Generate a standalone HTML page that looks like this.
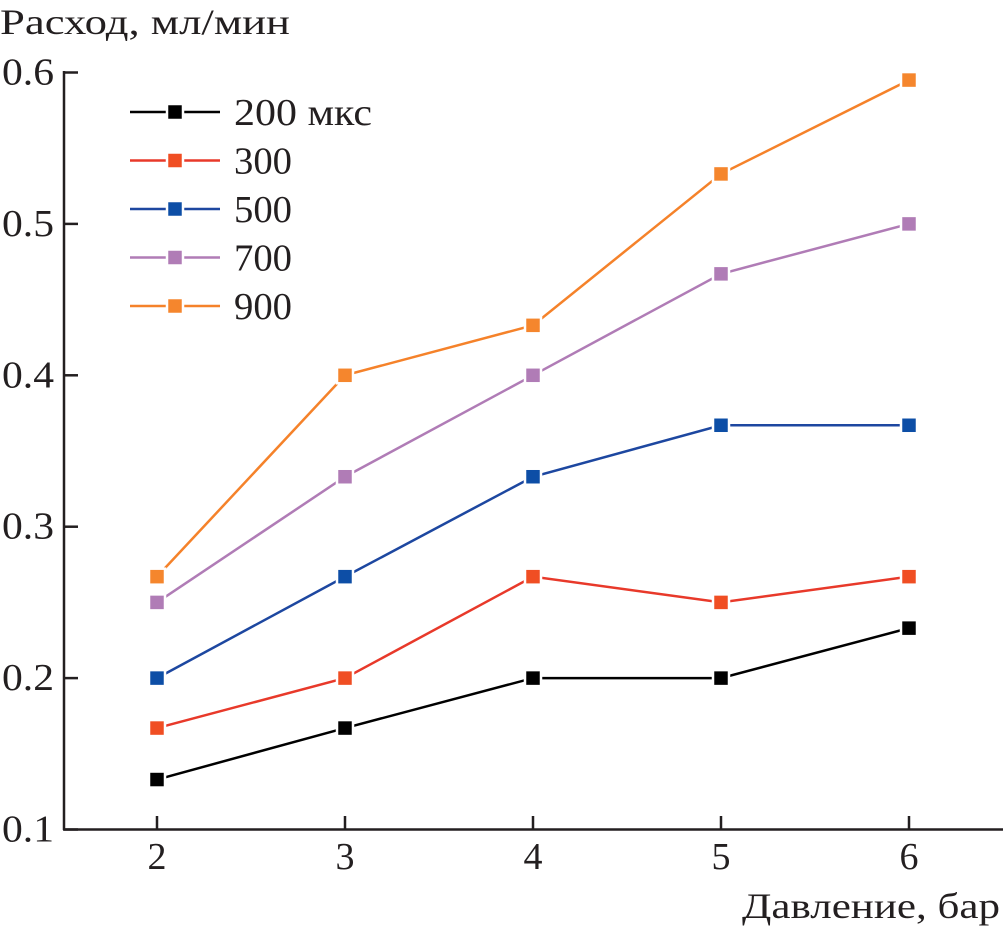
<!DOCTYPE html>
<html><head><meta charset="utf-8"><style>
html,body{margin:0;padding:0;background:#fff}
svg{display:block}
text{font-family:"Liberation Serif","Times New Roman","DejaVu Serif",serif;fill:#231f20}
</style></head><body>
<svg id="chart" width="1003" height="928">
<text x="0" y="34" font-size="36" textLength="290" lengthAdjust="spacingAndGlyphs" font-family="Liberation Serif, serif">Расход, мл/мин</text>
<text x="742" y="918" font-size="36" textLength="258" lengthAdjust="spacingAndGlyphs" font-family="Liberation Serif, serif">Давление, бар</text>
<g id="axes"></g><g id="series"></g><g id="legend"></g>
</svg>
<script>
const categories=[2,3,4,5,6];
const yTicks=[0.1,0.2,0.3,0.4,0.5,0.6];
const yTickLabels=["0.1","0.2","0.3","0.4","0.5","0.6"];
const seriesNames=["200 мкс","300","500","700","900"];
const s200=[0.133,0.167,0.2,0.2,0.233];
const s300=[0.167,0.2,0.267,0.25,0.267];
const s500=[0.2,0.267,0.333,0.367,0.367];
const s700=[0.25,0.333,0.4,0.467,0.5];
const s900=[0.267,0.4,0.433,0.533,0.595];
const allSeries=[s200,s300,s500,s700,s900];
const lineColors=["#000000","#e8392a","#1d47a0","#b07cb6","#f5822a"];
const markColors=["#000000","#f04e23","#0d4ea6","#b07cb6","#f5862d"];
const NS="http://www.w3.org/2000/svg";
const xS=v=>157+(v-2)*188;
const yS=v=>829.5-(v-0.1)*1514;
function mk(tag,at,parent){const e=document.createElementNS(NS,tag);for(const k in at)e.setAttribute(k,at[k]);parent.appendChild(e);return e;}
const axes=document.getElementById('axes');
let e=mk('line',{x1:64,y1:71,x2:64,y2:830,stroke:'#231f20','stroke-width':2.5},axes);


e=mk('line',{x1:63,y1:829.5,x2:1003,y2:829.5,stroke:'#231f20','stroke-width':2.5},axes);


yTicks.forEach((t,i)=>{
 const y=yS(t);
 let l=mk('line',{x1:64,y1:y,x2:78,y2:y,stroke:'#231f20','stroke-width':2.5},axes);
 
 
 let tx=mk('text',{x:2,y:y+12,'font-size':38,textLength:52,lengthAdjust:'spacingAndGlyphs'},axes);
 tx.textContent=yTickLabels[i];
 
 
});
categories.forEach(c=>{
 const x=xS(c);
 let l=mk('line',{x1:x,y1:829,x2:x,y2:816,stroke:'#231f20','stroke-width':2.5},axes);
 
 
 let tx=mk('text',{x:x,y:869,'font-size':38,'text-anchor':'middle'},axes);
 tx.textContent=String(c);
 
 
});
const sg=document.getElementById('series');
allSeries.forEach((s,si)=>{
 const pts=s.map((v,i)=>xS(categories[i])+','+yS(v)).join(' ');
 let pl=mk('polyline',{points:pts,fill:'none',stroke:lineColors[si],'stroke-width':2.5},sg);
 
 
});
allSeries.forEach((s,si)=>{
 s.forEach((v,i)=>{
  let r=mk('rect',{x:xS(categories[i])-8,y:yS(v)-8,width:16,height:16,fill:markColors[si],stroke:'#fff','stroke-width':2.5},sg);
  
  
 });
});
const lg=document.getElementById('legend');
seriesNames.forEach((n,i)=>{
 const y=112+i*48.5;
 let l=mk('line',{x1:130,y1:y,x2:220,y2:y,stroke:lineColors[i],'stroke-width':2.5},lg);
 
 
 let r=mk('rect',{x:167,y:y-8,width:16,height:16,fill:markColors[i],stroke:'#fff','stroke-width':2.5},lg);
 
 
 let t=mk('text',{x:234,y:y+13,'font-size':38,textLength:(i===0?138:58),lengthAdjust:'spacingAndGlyphs'},lg);
 t.textContent=n;
 
 
});
</script>
</body></html>
